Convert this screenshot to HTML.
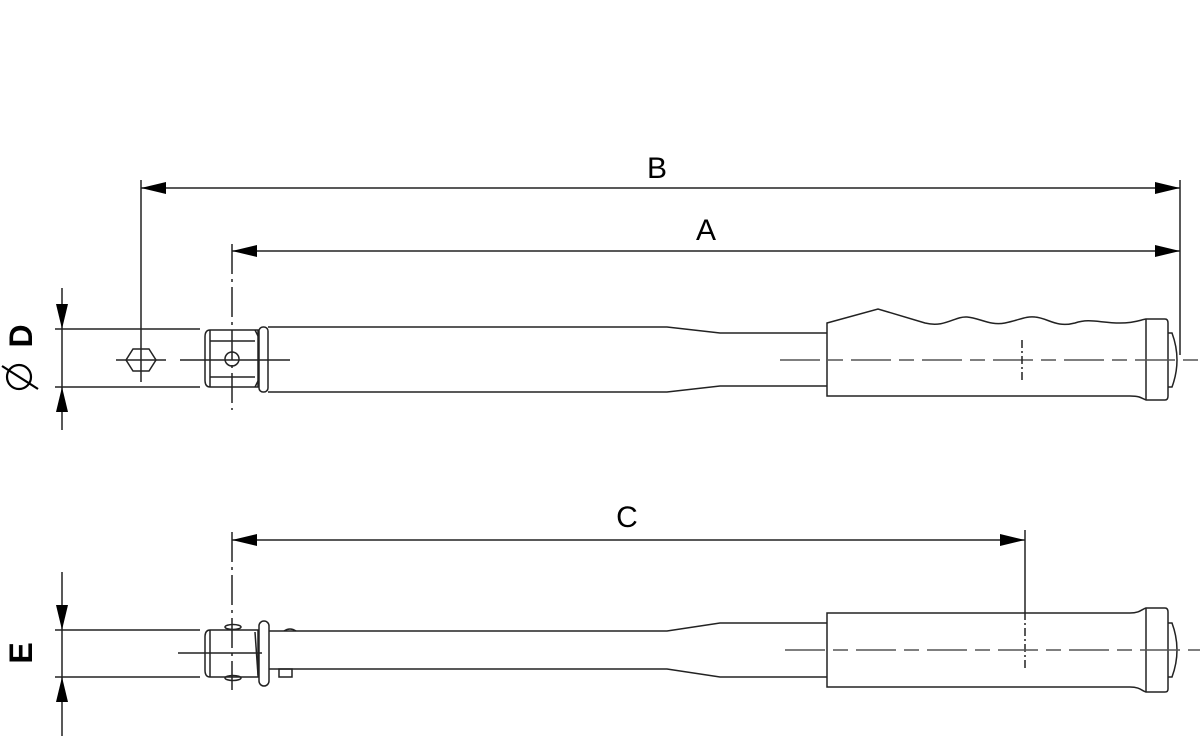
<!DOCTYPE html>
<html><head><style>html,body{margin:0;padding:0;background:#fff}svg{display:block}</style></head>
<body>
<svg width="1200" height="736" viewBox="0 0 1200 736" xmlns="http://www.w3.org/2000/svg" font-family="Liberation Sans, sans-serif">
<g stroke="#222" stroke-width="1.5" fill="none">
<line x1="141" y1="180" x2="141" y2="382"/>
<line x1="141" y1="188" x2="1180" y2="188"/>
<line x1="1180" y1="180" x2="1180" y2="355"/>
<line x1="232" y1="244" x2="232" y2="410" stroke-dasharray="30,5,3,5"/>
<line x1="232" y1="251" x2="1180" y2="251"/>
<line x1="62" y1="288" x2="62" y2="430"/>
<line x1="55" y1="329" x2="200" y2="329"/>
<line x1="55" y1="387" x2="200" y2="387"/>
<polygon points="126,360 133,349 149,349 156,360 149,371 133,371"/>
<line x1="116" y1="360" x2="166" y2="360"/>
<path d="M210,330 H258 V387 H210 Q205,387 205,380 V337 Q205,330 210,330 Z"/>
<path d="M210,330 V387 M210,341 H255 M210,377 H255 M255,330 L258,336 M255,387 L258,381"/>
<circle cx="232" cy="359" r="7"/>
<line x1="180" y1="360" x2="290" y2="360"/>
<rect x="259" y="327" width="9" height="65" rx="4"/>
<path d="M268,327 H667 L720,333 H827 M268,392 H667 L720,386 H827"/>
<path d="M827,323 L878,309 L925,323 C945,328 955,316 967,317 C980,318 990,326 1005,323 C1020,320 1025,316 1035,317 C1048,318 1056,328 1075,323 C1090,318 1100,323 1120,323 C1135,323 1140,320 1146,319 H1165 Q1168,319 1168,323 V396 Q1168,400 1165,400 H1146 C1140,397 1138,396 1130,396 H827 Z"/>
<line x1="1146" y1="319" x2="1146" y2="400"/>
<path d="M1168,333 H1172 Q1182,360 1172,387 H1168"/>
<line x1="780" y1="360" x2="1200" y2="360" stroke="#555" stroke-dasharray="40,8,15,8"/>
<line x1="1022" y1="340" x2="1022" y2="382" stroke-dasharray="8,3,2,3"/>
<line x1="232" y1="532" x2="232" y2="690" stroke-dasharray="30,5,3,5"/>
<line x1="232" y1="540" x2="1025" y2="540"/>
<line x1="1025" y1="530" x2="1025" y2="612"/>
<line x1="1025" y1="612" x2="1025" y2="670" stroke-dasharray="8,3,2,3"/>
<line x1="62" y1="572" x2="62" y2="736"/>
<line x1="55" y1="630" x2="200" y2="630"/>
<line x1="55" y1="677" x2="200" y2="677"/>
<path d="M210,630 H258 V677 H210 Q205,677 205,670 V637 Q205,630 210,630 Z"/>
<line x1="210" y1="630" x2="210" y2="677"/>
<line x1="255" y1="632" x2="258" y2="675"/>
<ellipse cx="233" cy="627" rx="8" ry="2.5"/>
<ellipse cx="233" cy="678" rx="8" ry="2.5"/>
<line x1="178" y1="653" x2="262" y2="653"/>
<rect x="259" y="621" width="10" height="65" rx="5"/>
<path d="M284,631 Q290,627 296,631"/>
<rect x="279" y="669" width="13" height="8"/>
<path d="M269,631 H667 L720,623 H827 M269,669 H667 L720,677 H827"/>
<path d="M827,613 H1130 C1140,613 1142,609 1146,608 H1165 Q1168,608 1168,612 V689 Q1168,692 1165,692 H1146 C1142,691 1140,687 1130,687 H827 Z"/>
<line x1="1146" y1="608" x2="1146" y2="692"/>
<path d="M1168,623 H1172 Q1182,650 1172,677 H1168"/>
<line x1="785" y1="650" x2="1200" y2="650" stroke="#555" stroke-dasharray="40,8,15,8"/>
</g>
<g fill="#000">
<polygon points="141,188 166,182 166,194"/>
<polygon points="1180,188 1155,182 1155,194"/>
<polygon points="232,251 257,245 257,257"/>
<polygon points="1180,251 1155,245 1155,257"/>
<polygon points="232,540 257,534 257,546"/>
<polygon points="1025,540 1000,534 1000,546"/>
<polygon points="62,329 56,304 68,304"/>
<polygon points="62,387 56,412 68,412"/>
<polygon points="62,630 56,605 68,605"/>
<polygon points="62,677 56,702 68,702"/>
</g>
<g font-size="30" fill="#000" text-anchor="middle">
<text x="657" y="178">B</text>
<text x="706" y="240">A</text>
<text x="627" y="527">C</text>
<text transform="translate(32,336) rotate(-90)" font-size="32" font-weight="bold">D</text>
<text transform="translate(32,653) rotate(-90)" font-size="32" font-weight="bold">E</text>
</g>
<g stroke="#000" stroke-width="2.2" fill="none">
<circle cx="19" cy="377" r="12"/>
<line x1="2" y1="366" x2="38" y2="389"/>
</g>
</svg>
</body></html>
